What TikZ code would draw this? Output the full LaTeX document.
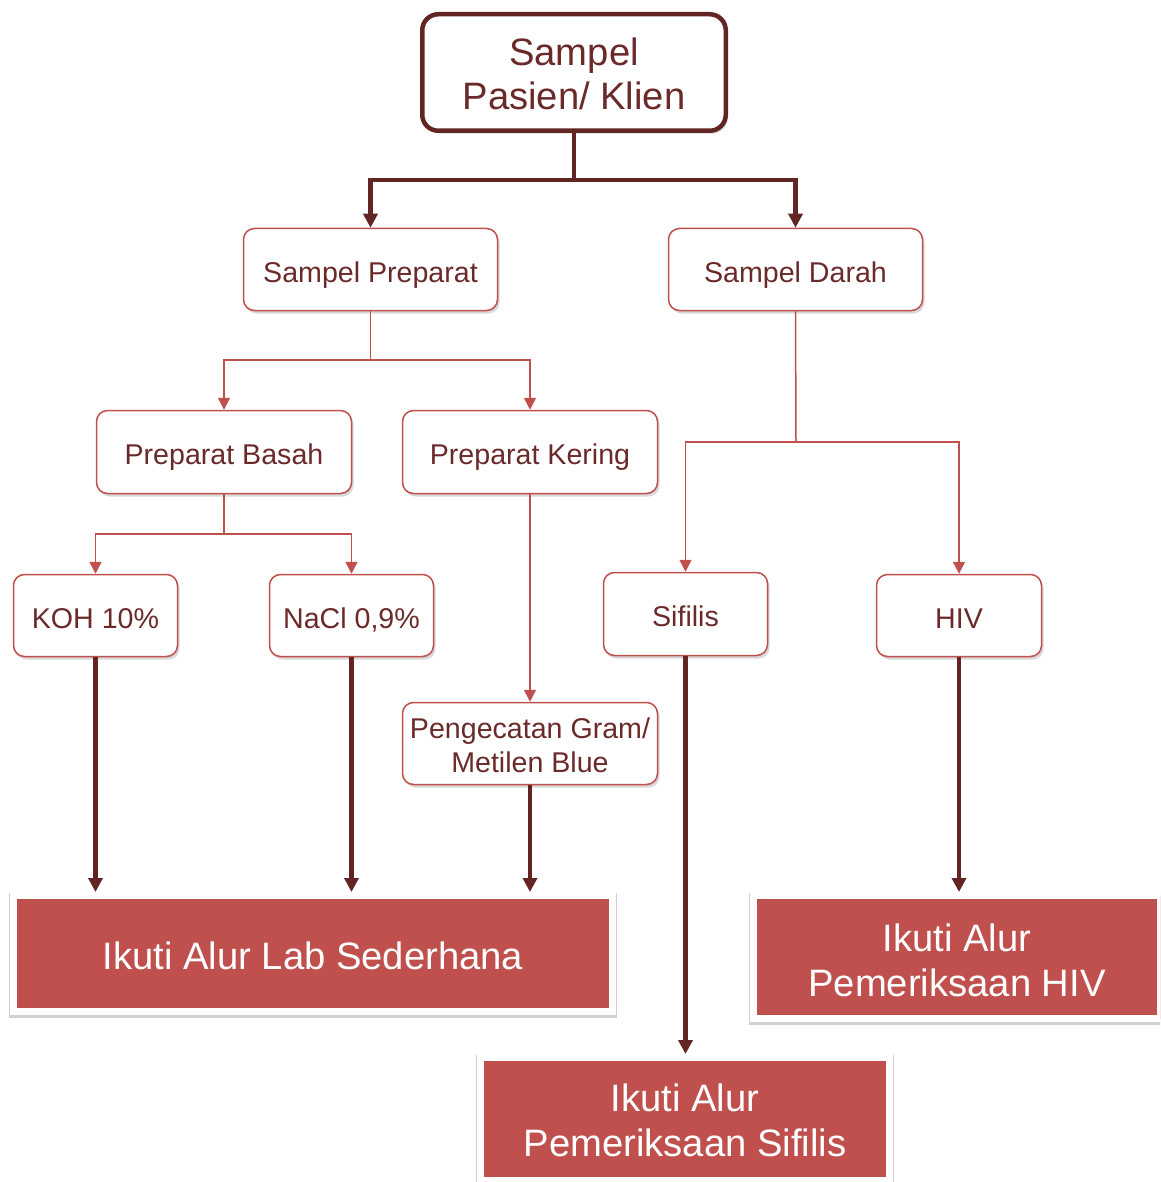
\documentclass[tikz,border=0pt]{standalone}
\usepackage{fontspec}
\setmainfont{Liberation Sans}
\usetikzlibrary{arrows.meta,shadows}

\definecolor{darkred}{HTML}{632523}
\definecolor{boxred}{HTML}{C0504D}
\definecolor{txtred}{HTML}{6B2A2A}

% invisible strut that lowers the text block inside a fixed-size box
\newcommand{\lowerby}[1]{\rule{0pt}{#1}}

\tikzset{
  softshadow/.style={drop shadow={shadow xshift=2pt, shadow yshift=-3pt, opacity=0.25, fill=black!60}},
  rootbox/.style={draw=darkred, line width=4.5pt, rounded corners=16pt, fill=white,
    text=txtred, align=center, inner sep=0pt, softshadow,
    font=\fontsize{38.2}{44}\selectfont},
  stepbase/.style={draw=boxred, line width=1.5pt, rounded corners=11pt, fill=white,
    text=txtred, align=center, inner sep=0pt, softshadow,
    font=\fontsize{28.6}{34}\selectfont},
  stepbox/.style={stepbase, text height=25pt, text depth=0pt},
  resultbox/.style={fill=boxred, draw=white, line width=7pt, text=white,
    align=center, inner sep=0pt,
    preaction={draw=black!18, line width=9.5pt, transform canvas={yshift=-2pt}},
    font=\fontsize{38.2}{45}\selectfont},
  thinarrow/.style={draw=boxred, line width=1.5pt, -{Triangle[width=12pt,length=12pt]}},
  thinline/.style={draw=boxred, line width=1.5pt},
  thickarrow/.style={draw=darkred, line width=4.5pt, -{Triangle[width=14pt,length=14pt]}},
  thickline/.style={draw=darkred, line width=4.5pt},
}

\begin{document}
\begin{tikzpicture}[x=1pt, y=-1pt]
  \fill[white] (0,0) rectangle (1160,1182);
  \clip (0,0) rectangle (1160,1182);

  % boxes
  \node[rootbox, minimum width=303.5pt, minimum height=116.5pt] (root) at (574,72.5) {\lowerby{30.5pt}Sampel\\Pasien/ Klien};

  \node[stepbox, minimum width=254pt, minimum height=82pt] (prep) at (370.5,269.5) {Sampel Preparat};
  \node[stepbox, minimum width=254pt, minimum height=82pt] (darah) at (795.5,269.5) {Sampel Darah};

  \node[stepbox, minimum width=255pt, minimum height=83pt] (basah) at (224,452) {Preparat Basah};
  \node[stepbox, minimum width=255pt, minimum height=83pt] (kering) at (530,452) {Preparat Kering};

  \node[stepbox, minimum width=164pt, minimum height=82pt] (koh) at (95.5,615.5) {KOH 10\%};
  \node[stepbox, minimum width=164pt, minimum height=82pt] (nacl) at (351.5,615.5) {NaCl 0,9\%};
  \node[stepbox, minimum width=164pt, minimum height=83pt] (sifilis) at (685.5,614) {Sifilis};
  \node[stepbox, minimum width=165pt, minimum height=82pt] (hiv) at (959,615.5) {HIV};

  \node[stepbase, minimum width=255pt, minimum height=82pt] (gram) at (530,743.5) {\lowerby{25pt}Pengecatan Gram/\\Metilen Blue};

  \node[resultbox, minimum width=599pt, minimum height=116pt] (lab) at (313,953.5) {\lowerby{31.5pt}Ikuti Alur Lab Sederhana};
  \node[resultbox, minimum width=407pt, minimum height=123pt] (hivres) at (957,957) {\lowerby{34pt}Ikuti Alur\\Pemeriksaan HIV};
  \node[resultbox, minimum width=409pt, minimum height=123pt] (sifres) at (685,1119) {\lowerby{31pt}Ikuti Alur\\Pemeriksaan Sifilis};

  % junction points
  \coordinate (j1) at (574,180);
  \coordinate (j2) at (370.5,360);
  \coordinate (j3) at (796,442);
  \coordinate (j4) at (224,534);

  % first split
  \draw[thickline] (root.south) -- (j1);
  \draw[thickarrow] (j1) -| (prep.north);
  \draw[thickarrow] (j1) -| (darah.north);

  % smear samples
  \draw[thinline] (prep.south) -- (j2);
  \draw[thinarrow] (j2) -| (basah.north);
  \draw[thinarrow] (j2) -| (kering.north);

  \draw[thinline] (basah.south) -- (j4);
  \draw[thinarrow] (j4) -| (koh.north);
  \draw[thinarrow] (j4) -| (nacl.north);

  \draw[thinarrow] (kering.south) -- (gram.north);

  % blood samples
  \draw[thinline] (darah.south) -- (j3);
  \draw[thinarrow] (j3) -| (sifilis.north);
  \draw[thinarrow] (j3) -| (hiv.north);

  % to the follow-up procedures
  \draw[thickarrow] (koh.south) -- (koh.south |- lab.north);
  \draw[thickarrow] (nacl.south) -- (nacl.south |- lab.north);
  \draw[thickarrow] (gram.south) -- (gram.south |- lab.north);
  \draw[thickarrow] (sifilis.south) -- (sifilis.south |- sifres.north);
  \draw[thickarrow] (hiv.south) -- (hiv.south |- hivres.north);
\end{tikzpicture}
\end{document}
